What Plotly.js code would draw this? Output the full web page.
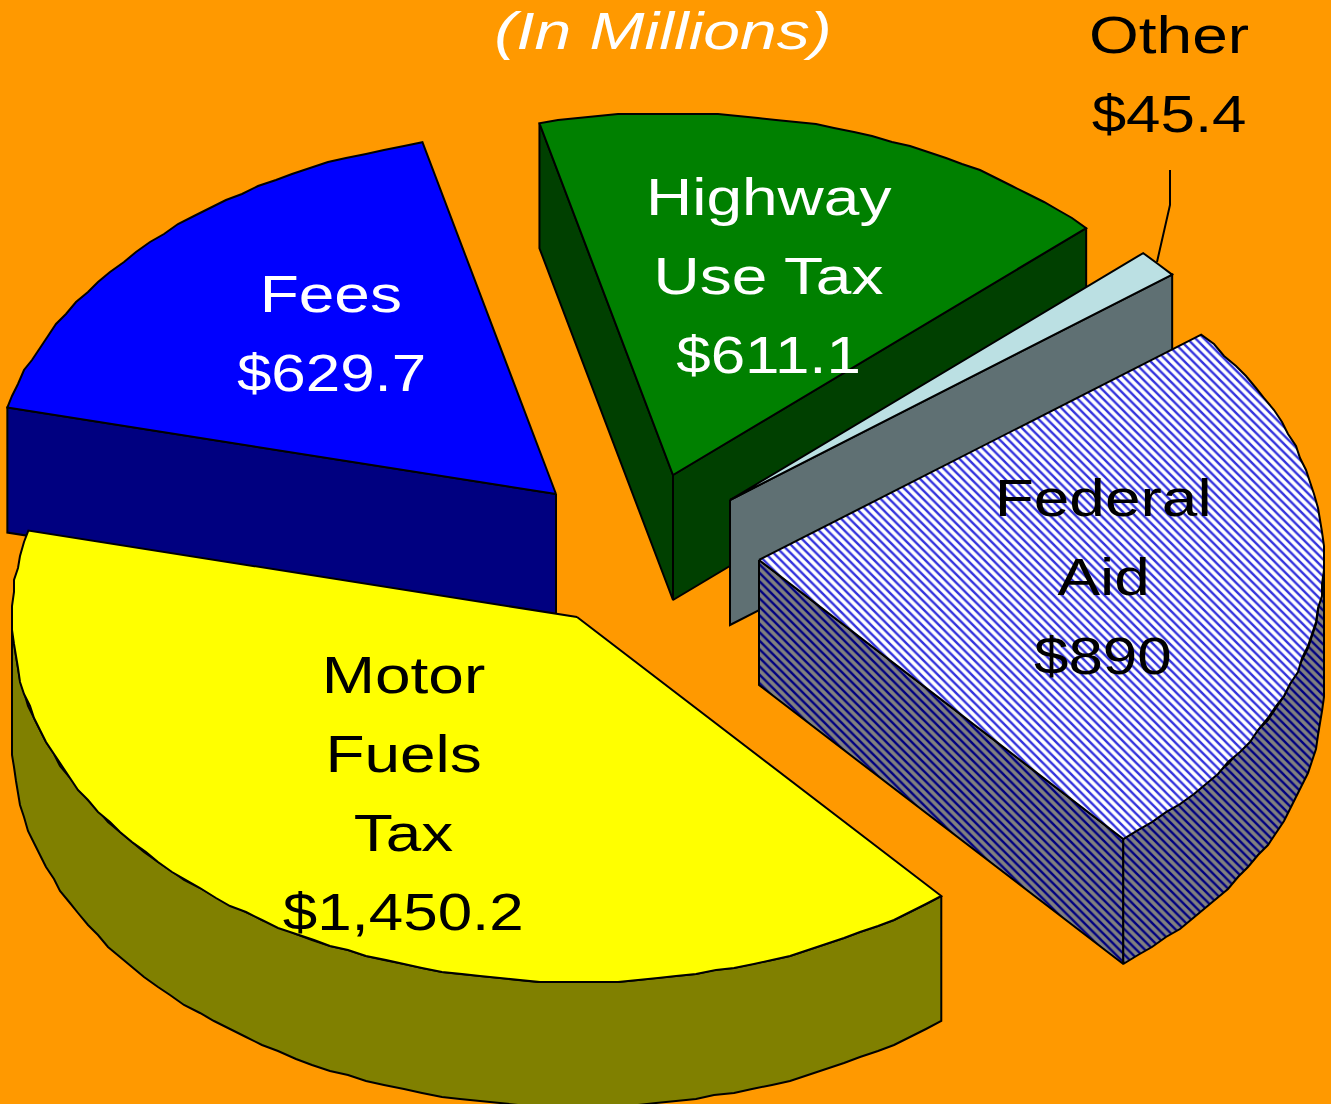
<!DOCTYPE html>
<html>
<head>
<meta charset="utf-8">
<script src="https://cdn.plot.ly/plotly-3.0.1.min.js"></script>
<style>html,body{margin:0;padding:0;background:#FF9900;overflow:hidden}</style>
</head>
<body>
<div id="chart" style="width:1331px;height:1104px"></div>
<script>
// Data, clockwise from the start angle
const categories = ['Federal Aid', 'Motor Fuels Tax', 'Fees', 'Highway Use Tax', 'Other'];
const values = [890, 1450.2, 629.7, 611.1, 45.4];
const labelLines = [['Federal', 'Aid', '$890'], ['Motor', 'Fuels', 'Tax', '$1,450.2'], ['Fees', '$629.7'], ['Highway', 'Use Tax', '$611.1'], ['Other', '$45.4']];

// Styles
const topColors = ['#FFFFFF', '#FFFF00', '#0000FF', '#008000', '#BBE0E3'];
const sideColors = ['#808080', '#808000', '#000080', '#004000', '#5F7073'];
const textColors = ['#000000', '#000000', '#FFFFFF', '#FFFFFF', '#000000'];

// Layout of the exploded projection (pixel-scaled axes)
const apexX = [759, 577, 556, 673, 730];
const apexY = [560, 617, 494, 475, 500];
const labelX = [1103, 403, 331, 768, 1169];
const labelY = [498, 675, 294, 197, 35];
const drawOrder = [3, 4, 0, 2, 1];
const startAngle = 51.5, radiusX = 565, frontRadiusY = 365, backRadiusY = 362, depth = 125, linePitch = 79, stepDeg = 2, wobble = 2;
const wordStretch = 1.23, amountStretch = 1.19, titleStretch = 1.27;

const total = values.reduce((a, b) => a + b, 0);
const rad = d => d * Math.PI / 180;
const snap = v => Math.round(v / wobble) * wobble;
const rimPoint = (i, t) => {
  const c = Math.cos(rad(t));
  return { x: apexX[i] + radiusX * Math.sin(rad(t)), y: apexY[i] - (c > 0 ? backRadiusY : frontRadiusY) * c };
};

function arc(i, a, b) {
  const pts = [];
  const n = Math.max(1, Math.round((b - a) / stepDeg));
  for (let k = 0; k <= n; k++) {
    const p = rimPoint(i, a + (b - a) * k / n);
    pts.push(k === 0 || k === n ? p : { x: snap(p.x), y: snap(p.y) });
  }
  return pts;
}

function face(pts, fillcolor, pattern) {
  const t = {
    type: 'scatter', mode: 'lines', hoverinfo: 'skip', showlegend: false,
    x: pts.map(p => p.x).concat(pts[0].x), y: pts.map(p => p.y).concat(pts[0].y),
    fill: 'toself', fillcolor: fillcolor, line: { color: '#000000', width: 2, simplify: false }
  };
  if (pattern) t.fillpattern = pattern;
  return t;
}
const down = p => ({ x: p.x, y: p.y + depth });

const angles = [];
let run = startAngle;
values.forEach(v => { angles.push([run, run + v / total * 360]); run += v / total * 360; });

const traces = [];
drawOrder.forEach(i => {
  const [t0, t1] = angles[i];
  const apex = { x: apexX[i], y: apexY[i] };
  const isHatched = categories[i] === 'Federal Aid';
  const sidePattern = isHatched ? { shape: '\\', size: 6, solidity: 0.4, bgcolor: sideColors[i], fgcolor: '#000080', fillmode: 'replace' } : null;
  const topPattern = isHatched ? { shape: '\\', size: 6, solidity: 0.4, bgcolor: topColors[i], fgcolor: '#3333DD', fillmode: 'replace' } : null;
  // radial faces turned toward the viewer
  [[t0, Math.sin(rad(t0)) < 0], [t1, Math.sin(rad(t1)) > 0]].forEach(([t, visible]) => {
    if (!visible) return;
    const p = rimPoint(i, t);
    traces.push(face([apex, p, down(p), down(apex)], sideColors[i], sidePattern));
  });
  // outer rim, front half only
  const a = Math.max(t0, 90), b = Math.min(t1, 270);
  if (b > a) {
    const top = arc(i, a, b);
    traces.push(face(top.concat(top.map(down).reverse()), sideColors[i], sidePattern));
  }
  // top
  traces.push(face([apex].concat(arc(i, t0, t1)), topColors[i], topPattern));
});

// leader line for the small slice
traces.push({
  type: 'scatter', mode: 'lines', hoverinfo: 'skip', showlegend: false,
  x: [1170, 1170, 1157], y: [170, 205, 262], line: { color: '#000000', width: 2 }
});

const annotations = [];
labelLines.forEach((lines, i) => lines.forEach((line, k) => annotations.push({
  text: line, x: labelX[i], y: labelY[i] + k * linePitch, xref: 'x', yref: 'y',
  xanchor: 'center', yanchor: 'middle', showarrow: false,
  font: { family: 'Liberation Sans, Arial, sans-serif', size: 52, color: textColors[i] }
})));

const layout = {
  width: 1331, height: 1104,
  margin: { l: 0, r: 0, t: 0, b: 0 },
  paper_bgcolor: '#FF9900', plot_bgcolor: '#FF9900',
  showlegend: false,
  title: {
    text: '(In Millions)', x: 663 / 1331, y: 1 - 31 / 1104, xref: 'paper', yref: 'container',
    xanchor: 'center', yanchor: 'middle', automargin: false,
    font: { family: 'Liberation Sans, Arial, sans-serif', size: 52, color: '#FFFFFF', style: 'italic' }
  },
  xaxis: { range: [0, 1331], visible: false, fixedrange: true },
  yaxis: { range: [1104, 0], visible: false, fixedrange: true },
  annotations: annotations
};

Plotly.newPlot('chart', traces, layout, { displayModeBar: false, staticPlot: true }).then(() => {
  // the reference lettering is horizontally widened
  document.querySelectorAll('#chart .annotation-text, #chart .gtitle').forEach(el => {
    const isTitle = el.classList.contains('gtitle');
    const factor = isTitle ? titleStretch : (el.textContent.startsWith('$') ? amountStretch : wordStretch);
    el.setAttribute('textLength', (el.getComputedTextLength() * factor).toFixed(1));
    el.setAttribute('lengthAdjust', 'spacingAndGlyphs');
  });
});
</script>
</body>
</html>
